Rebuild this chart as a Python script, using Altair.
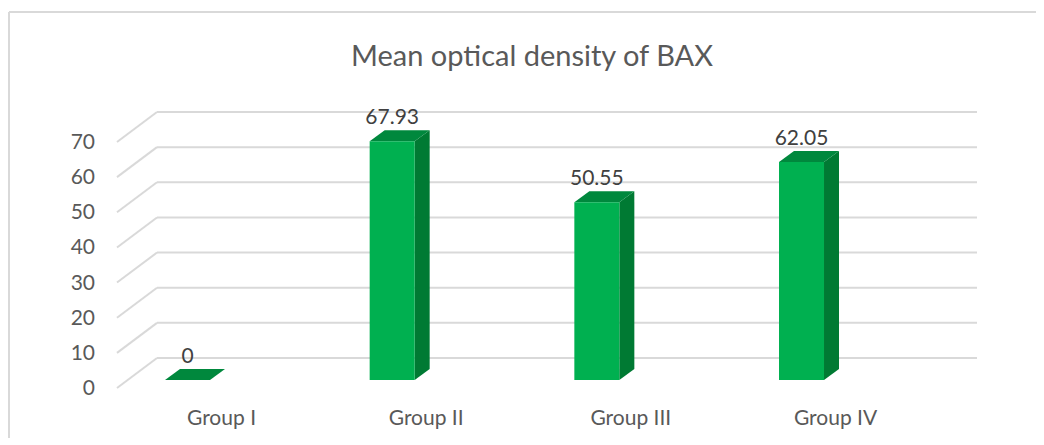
import altair as alt
import pandas as pd

# ---------------- data ----------------
groups = ["Group I", "Group II", "Group III", "Group IV"]
values = [0, 67.93, 50.55, 62.05]
value_labels = ["0", "67.93", "50.55", "62.05"]
y_ticks = [0, 10, 20, 30, 40, 50, 60, 70]
title_text = "Mean optical density of BAX"

# ---------------- layout / styling constants ----------------
PLOT_W, PLOT_H = 830, 246
PX_X = 204.67                      # pixels per category step
PX_Y = PLOT_H / 70.0               # pixels per y unit (front plane)
XMIN = -70.5 / PX_X
XMAX = XMIN + PLOT_W / PX_X
HW = 22.5 / PX_X                   # half bar width
DX, DY = 15 / PX_X, 11 / PX_Y      # bar depth offset
BASE = 8 / PX_Y                    # bar floor above front plane
WDX, WDY = 40 / PX_X, 30 / PX_Y    # wall depth offset
XR = (977 - 187.5) / PX_X          # right end of back wall

FONT = "Lato"
FRONT, SIDE, TOP = "#00B050", "#007A33", "#00883D"
GRID = "#D9D9D9"
AXIS_TXT, VAL_TXT = "#595959", "#404040"

xs = alt.Scale(domain=[XMIN, XMAX], nice=False, zero=False)
ys = alt.Scale(domain=[0, 70], nice=False, zero=False)

idx = list(range(len(groups)))

front = pd.DataFrame({
    "g": groups,
    "x": [i - HW for i in idx], "x2": [i + HW for i in idx],
    "y": [BASE] * len(idx), "y2": [BASE + v for v in values],
})
side_rows, top_rows = [], []
for i, g, v in zip(idx, groups, values):
    side_rows.append({"g": g, "x": i + HW, "lo": BASE, "hi": BASE + v})
    side_rows.append({"g": g, "x": i + HW + DX, "lo": BASE + DY, "hi": BASE + DY + v})
    top_rows.append({"g": g, "y": BASE + v, "xl": i - HW, "xr": i + HW})
    top_rows.append({"g": g, "y": BASE + v + DY, "xl": i - HW + DX, "xr": i + HW + DX})
side = pd.DataFrame(side_rows)
top = pd.DataFrame(top_rows)
labels = pd.DataFrame({"x": idx, "y": [BASE + v + DY for v in values], "t": value_labels})

diag = pd.DataFrame({"x": [XMIN] * len(y_ticks), "x2": [XMIN + WDX] * len(y_ticks),
                     "y": y_ticks, "y2": [k + WDY for k in y_ticks]})
back = pd.DataFrame({"x": [XMIN + WDX] * len(y_ticks), "x2": [XR] * len(y_ticks),
                     "y": [k + WDY for k in y_ticks]})
ytick_df = pd.DataFrame({"x": [XMIN] * len(y_ticks), "y": y_ticks,
                         "t": [str(k) for k in y_ticks]})
xtick_df = pd.DataFrame({"x": idx, "y": [0] * len(idx), "t": groups})
title_df = pd.DataFrame({"t": [title_text]})

X = lambda f: alt.X(f, scale=xs, axis=None)
Y = lambda f: alt.Y(f, scale=ys, axis=None)

grid_diag = alt.Chart(diag).mark_rule(color=GRID, strokeWidth=2).encode(
    x=X("x:Q"), x2="x2", y=Y("y:Q"), y2="y2")
grid_back = alt.Chart(back).mark_rule(color=GRID, strokeWidth=2).encode(
    x=X("x:Q"), x2="x2", y=Y("y:Q"))

bars_side = alt.Chart(side).mark_area(color=SIDE, orient="vertical").encode(
    x=X("x:Q"), y=Y("lo:Q"), y2="hi", detail="g:N")
bars_top = alt.Chart(top).mark_area(color=TOP, orient="horizontal").encode(
    y=Y("y:Q"), x=X("xl:Q"), x2="xr", detail="g:N")
bars_front = alt.Chart(front).mark_rect(color=FRONT).encode(
    x=X("x:Q"), x2="x2", y=Y("y:Q"), y2="y2")

val_text = alt.Chart(labels).mark_text(font=FONT, fontSize=21, color=VAL_TXT,
                                       baseline="alphabetic", dy=-6).encode(
    x=X("x:Q"), y=Y("y:Q"), text="t:N")

ytick_text = alt.Chart(ytick_df).mark_text(font=FONT, fontSize=21, color=AXIS_TXT,
                                           align="right", baseline="middle", dx=-22, dy=1).encode(
    x=X("x:Q"), y=Y("y:Q"), text="t:N")
xtick_text = alt.Chart(xtick_df).mark_text(font=FONT, fontSize=21, color=AXIS_TXT,
                                           align="center", baseline="middle", dx=34, dy=31).encode(
    x=X("x:Q"), y=Y("y:Q"), text="t:N")

title_mark = alt.Chart(title_df).mark_text(font=FONT, fontSize=29, color=AXIS_TXT,
                                           align="center", baseline="middle").encode(
    x=alt.value(PLOT_W / 2), y=alt.value(57 - 142), text="t:N")

frame_top = alt.Chart(title_df).mark_rule(color=GRID, strokeWidth=2).encode(
    x=alt.value(-108), x2=alt.value(1000), y=alt.value(-130))
frame_left = alt.Chart(title_df).mark_rule(color=GRID, strokeWidth=2).encode(
    x=alt.value(-108), y=alt.value(-130), y2=alt.value(400))

chart = alt.layer(
    grid_diag, grid_back, bars_side, bars_top, bars_front, val_text,
    ytick_text, xtick_text, title_mark, frame_top, frame_left
).properties(
    width=PLOT_W, height=PLOT_H,
    autosize=alt.AutoSizeParams(type="none"),
    padding={"left": 109, "top": 134, "right": 89, "bottom": 50},
).configure_view(stroke=None)

chart.save("out.html", embed_options={"renderer": "svg", "actions": False})
